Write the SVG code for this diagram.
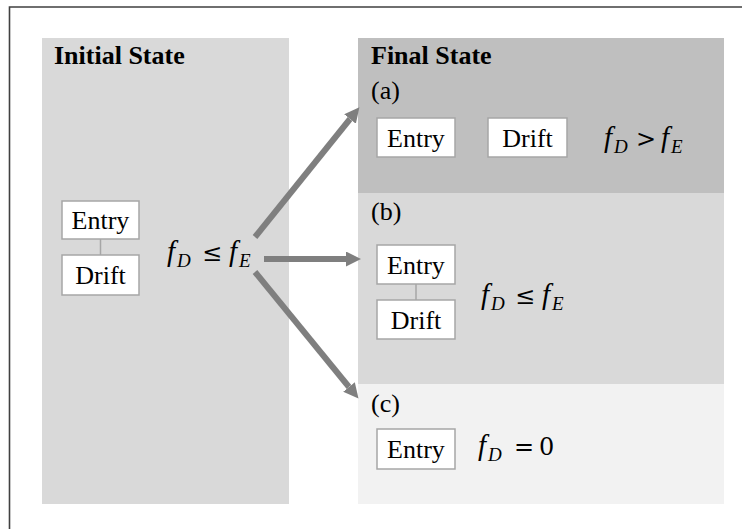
<svg xmlns="http://www.w3.org/2000/svg" width="742" height="529" viewBox="0 0 742 529">
<style>
.box{fill:#ffffff;stroke:#a6a6a6;stroke-width:1.5}
.lbl{font-family:"Liberation Serif",serif;font-size:26px;fill:#000}
.ttl{font-family:"Liberation Serif",serif;font-size:26px;font-weight:bold;fill:#000}
.m{font-family:"Liberation Serif",serif;font-size:29px;font-style:italic;fill:#000}
.ms{font-family:"Liberation Serif",serif;font-size:19px;font-style:italic;fill:#000}
.op{font-family:"DejaVu Serif",serif;font-size:24px;fill:#000}
.conn{stroke:#a6a6a6;stroke-width:1.5;fill:none}
.arr{stroke:#7f7f7f;stroke-width:6;fill:none}
</style>
<defs>
<marker id="ah" markerUnits="userSpaceOnUse" markerWidth="15" markerHeight="15" viewBox="0 0 15 15" refX="0" refY="7.5" orient="auto">
<path d="M0,0 L15,7.5 L0,15 z" fill="#7f7f7f"/>
</marker>
</defs>
<rect x="0" y="0" width="742" height="529" fill="#ffffff"/>
<path d="M9.5,529 L9.5,7 L742,7" fill="none" stroke="#404040" stroke-width="1.6"/>

<g id="initial-panel">
<rect x="42" y="38" width="247" height="466" fill="#d9d9d9"/>
<text class="ttl" x="54" y="64">Initial State</text>
</g>
<g id="final-a">
<rect x="358" y="38" width="366" height="155" fill="#bfbfbf"/>
<text class="ttl" x="371" y="64">Final State</text>
<text class="lbl" x="371" y="99">(a)</text>
</g>
<g id="final-b">
<rect x="358" y="193" width="366" height="191" fill="#d9d9d9"/>
<text class="lbl" x="371" y="220">(b)</text>
</g>
<g id="final-c">
<rect x="358" y="384" width="366" height="120" fill="#f2f2f2"/>
<text class="lbl" x="371" y="412">(c)</text>
</g>

<g id="connectors">
<line class="conn" x1="100.5" y1="239" x2="100.5" y2="255"/>
<line class="conn" x1="416" y1="284" x2="416" y2="300"/>
<line class="arr" x1="255" y1="237" x2="350" y2="119" marker-end="url(#ah)"/>
<line class="arr" x1="264" y1="259" x2="346" y2="259" marker-end="url(#ah)"/>
<line class="arr" x1="255" y1="272" x2="349" y2="387" marker-end="url(#ah)"/>
</g>

<g id="init-entry"><rect class="box" x="62" y="201" width="77" height="38"/><text class="lbl" x="100.5" y="229" text-anchor="middle">Entry</text></g>
<g id="init-drift"><rect class="box" x="62" y="255" width="77" height="40"/><text class="lbl" x="100.5" y="284" text-anchor="middle">Drift</text></g>
<g id="init-cond">
<text class="m" x="167" y="261">f</text><text class="ms" x="177" y="267">D</text>
<text class="op" x="202" y="261">≤</text>
<text class="m" x="229" y="261">f</text><text class="ms" x="239" y="267">E</text>
</g>

<g id="a-entry"><rect class="box" x="377" y="118" width="78" height="39"/><text class="lbl" x="416" y="147" text-anchor="middle">Entry</text></g>
<g id="a-drift"><rect class="box" x="488" y="118" width="79" height="39"/><text class="lbl" x="527.5" y="147" text-anchor="middle">Drift</text></g>
<g id="a-cond">
<text class="m" x="604" y="147">f</text><text class="ms" x="614" y="153">D</text>
<text class="op" x="636" y="147">&gt;</text>
<text class="m" x="661" y="147">f</text><text class="ms" x="671" y="153">E</text>
</g>

<g id="b-entry"><rect class="box" x="377" y="245" width="78" height="39"/><text class="lbl" x="416" y="274" text-anchor="middle">Entry</text></g>
<g id="b-drift"><rect class="box" x="377" y="300" width="78" height="39"/><text class="lbl" x="416" y="329" text-anchor="middle">Drift</text></g>
<g id="b-cond">
<text class="m" x="481" y="304">f</text><text class="ms" x="491" y="310">D</text>
<text class="op" x="515" y="304">≤</text>
<text class="m" x="542" y="304">f</text><text class="ms" x="552" y="310">E</text>
</g>

<g id="c-entry"><rect class="box" x="377" y="429" width="78" height="40"/><text class="lbl" x="416" y="458" text-anchor="middle">Entry</text></g>
<g id="c-cond">
<text class="m" x="478" y="455">f</text><text class="ms" x="488" y="461">D</text>
<text class="op" x="514" y="455">=</text>
<text class="op" x="539" y="455">0</text>
</g>
</svg>
